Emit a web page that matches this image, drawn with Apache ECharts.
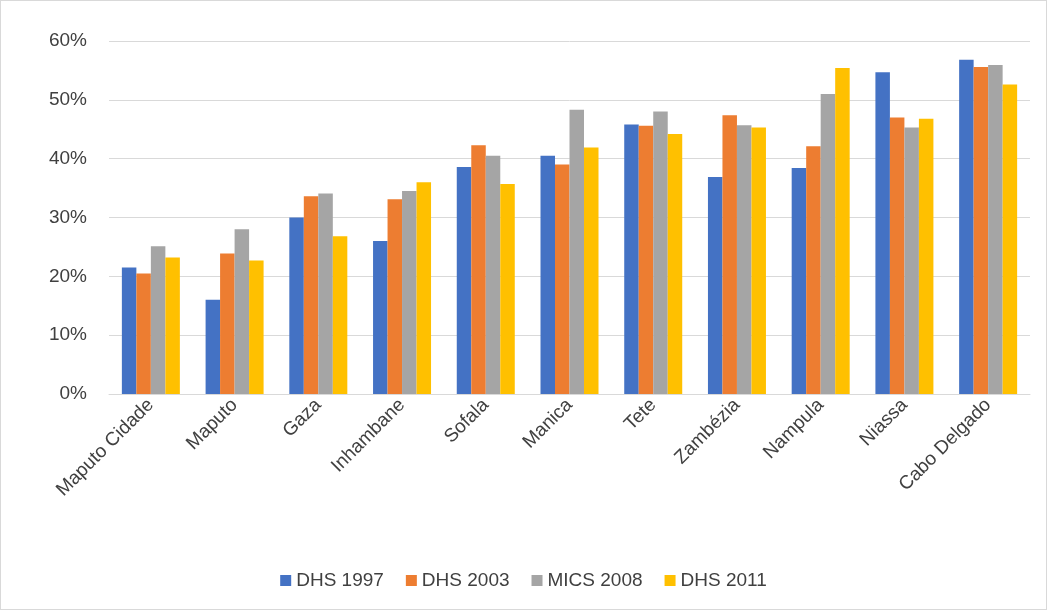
<!DOCTYPE html>
<html><head><meta charset="utf-8">
<script src="https://cdn.jsdelivr.net/npm/echarts@6/dist/echarts.min.js"></script>
<style>html,body{margin:0;padding:0;background:#fff}#c{width:1047px;height:610px;box-sizing:border-box;border:1px solid #d9d9d9}</style>
</head><body><div id="c"></div>
<script>
const categories=['Maputo Cidade','Maputo','Gaza','Inhambane','Sofala','Manica','Tete','Zambézia','Nampula','Niassa','Cabo Delgado'];
const dhs1997=[21.5,16,30,26,38.6,40.5,45.8,36.9,38.4,54.7,56.8];
const dhs2003=[20.5,23.9,33.6,33.1,42.3,39,45.6,47.4,42.1,47,55.6];
const mics2008=[25.1,28,34.1,34.5,40.5,48.3,48,45.7,51,45.3,55.9];
const dhs2011=[23.2,22.7,26.8,36,35.7,41.9,44.2,45.3,55.4,46.8,52.6];
const names=['DHS 1997','DHS 2003','MICS 2008','DHS 2011'];
const colors=['#4472C4','#ED7D31','#A5A5A5','#FFC000'];
const data=[dhs1997,dhs2003,mics2008,dhs2011];
const chart=echarts.init(document.getElementById('c'));
chart.setOption({
 textStyle:{fontFamily:'Liberation Sans, Arial'},
 grid:{left:108,right:16,top:40,bottom:215},
 legend:{bottom:14,itemWidth:11,itemHeight:11,itemGap:22,icon:'rect',textStyle:{fontSize:19,color:'#404040'}},
 xAxis:{type:'category',data:categories,axisTick:{show:false},axisLine:{lineStyle:{color:'#d9d9d9'}},
  axisLabel:{rotate:45,fontSize:19,color:'#404040',interval:0,margin:8}},
 yAxis:{type:'value',min:0,max:60,interval:10,axisLabel:{formatter:'{value}%',fontSize:19,color:'#404040',margin:22},
  splitLine:{lineStyle:{color:'#d9d9d9'}}},
 series:data.map((d,i)=>({name:names[i],type:'bar',data:d,itemStyle:{color:colors[i]},barWidth:14.5,barGap:'0%'}))
});
</script></body></html>
